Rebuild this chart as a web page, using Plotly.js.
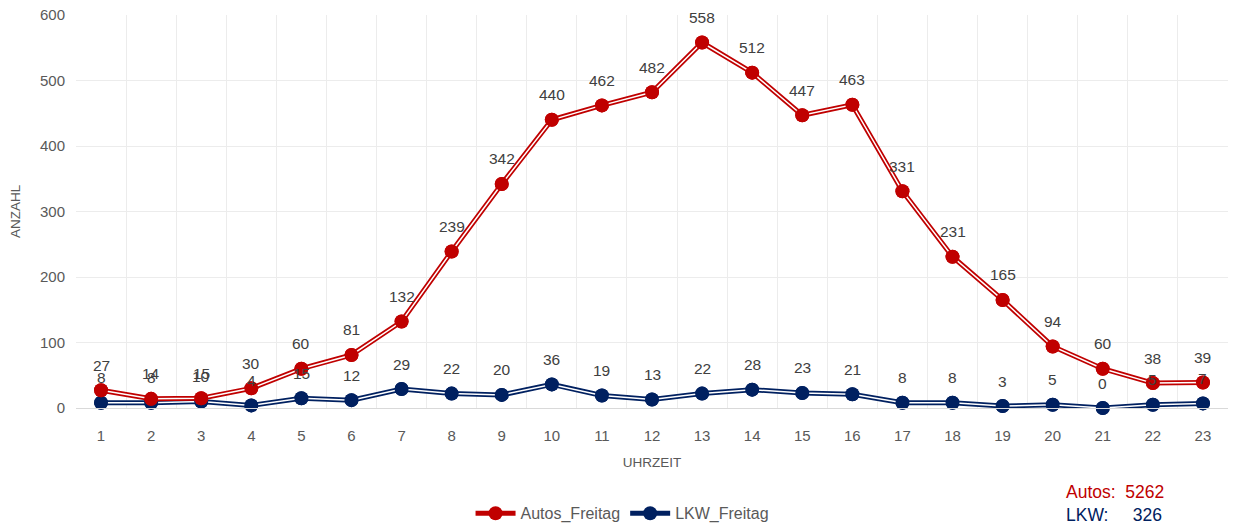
<!DOCTYPE html>
<html><head><meta charset="utf-8">
<script src="https://cdn.plot.ly/plotly-3.0.1.min.js"></script>
<style>html,body{margin:0;padding:0;background:#fff}#c{width:1242px;height:529px}</style>
</head><body><div id="c"></div>
<script>
const hours = [1,2,3,4,5,6,7,8,9,10,11,12,13,14,15,16,17,18,19,20,21,22,23];
const autos = [27,14,15,30,60,81,132,239,342,440,462,482,558,512,447,463,331,231,165,94,60,38,39];
const lkw = [8,8,10,4,15,12,29,22,20,36,19,13,22,28,23,21,8,8,3,5,0,5,7];
const seriesNames = ['Autos_Freitag','LKW_Freitag'];
const totalAutos = 5262, totalLkw = 326;

const RED = '#C00000', NAVY = '#002060';
const FONT = 'Liberation Sans, Arial, sans-serif';

function series(y, color, name) {
  return [
    {x: hours, y: y, mode: 'lines+markers', name: name, line: {color: color, width: 5},
     marker: {color: color, size: 14}, hoverinfo: 'skip', cliponaxis: false},
    {x: hours, y: y, mode: 'lines', showlegend: false, line: {color: '#ffffff', width: 1.5}, hoverinfo: 'skip', cliponaxis: false},
    {x: hours, y: y, mode: 'markers', showlegend: false, marker: {color: color, size: 14}, hoverinfo: 'skip', cliponaxis: false}
  ];
}
const data = [...series(lkw, NAVY, seriesNames[1]), ...series(autos, RED, seriesNames[0])];
data[0].legendrank = 2; data[3].legendrank = 1;

const annotations = [];
hours.forEach((h, i) => {
  annotations.push({x: h, y: autos[i], text: String(autos[i]), showarrow: false, yshift: 25,
    font: {family: FONT, size: 15.5, color: '#404040'}});
  annotations.push({x: h, y: lkw[i], text: String(lkw[i]), showarrow: false, yshift: 25,
    font: {family: FONT, size: 15.5, color: '#404040'}});
});
annotations.push({xref: 'paper', yref: 'paper', x: 0.858, y: -0.215, xanchor: 'left', yanchor: 'middle',
  text: 'Autos:  ' + totalAutos, showarrow: false, font: {family: FONT, size: 17.5, color: RED}});
annotations.push({xref: 'paper', yref: 'paper', x: 0.858, y: -0.273, xanchor: 'left', yanchor: 'middle',
  text: 'LKW:     ' + totalLkw, showarrow: false, font: {family: FONT, size: 17.5, color: NAVY}});

const layout = {
  width: 1242, height: 529,
  margin: {l: 76, r: 14, t: 15, b: 121, autoexpand: false},
  paper_bgcolor: '#fff', plot_bgcolor: '#fff',
  font: {family: FONT, color: '#595959'},
  showlegend: true,
  legend: {orientation: 'h', x: 0.474, xanchor: 'center', y: -0.268, yanchor: 'middle',
    itemwidth: 40, font: {family: FONT, size: 16, color: '#595959'}},
  xaxis: {
    range: [0.5, 23.5], tickvals: hours, ticktext: hours.map(String), automargin: false,
    showgrid: false, zeroline: false, showline: true, linecolor: '#d9d9d9', linewidth: 1,
    ticks: '', tickfont: {family: FONT, size: 15, color: '#595959'}, ticklabelstandoff: 14,
    minor: {tick0: 0.5, dtick: 1, showgrid: true, gridcolor: '#ececec', gridwidth: 1, ticks: ''},
    title: {text: 'UHRZEIT', font: {family: FONT, size: 13.5, color: '#595959'}, standoff: 14}
  },
  yaxis: {
    range: [0, 600], dtick: 100, showgrid: true, gridcolor: '#ececec', zeroline: false, automargin: false,
    showline: false, ticks: '', tickfont: {family: FONT, size: 15, color: '#595959'},
    ticklabelstandoff: 10,
    title: {text: 'ANZAHL', font: {family: FONT, size: 13.5, color: '#595959'}, standoff: 16}
  },
  annotations: annotations
};
Plotly.newPlot('c', data, layout, {displayModeBar: false, staticPlot: true});
</script>
</body></html>
